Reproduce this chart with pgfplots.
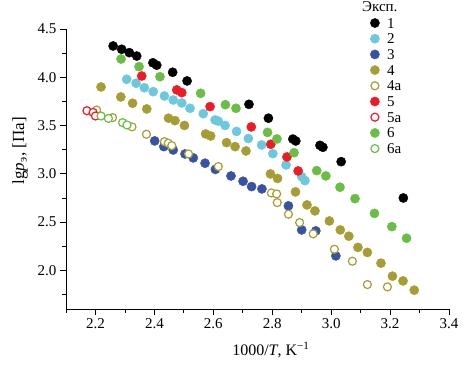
\documentclass[border=0pt]{standalone}
\usepackage{fontspec}
\setmainfont{Liberation Serif}
\usepackage{pgfplots}
\pgfplotsset{compat=1.18}
\definecolor{c1}{RGB}{0,0,0}
\definecolor{c2}{RGB}{108,200,220}
\definecolor{c3}{RGB}{57,83,164}
\definecolor{c4}{RGB}{166,158,52}
\definecolor{c5}{RGB}{237,28,36}
\definecolor{c6}{RGB}{106,189,69}
\begin{document}
\begin{tikzpicture}
\begin{axis}[
 scale only axis, width=383pt, height=280pt,
 xmin=2.1, xmax=3.4, ymin=1.6, ymax=4.5,
 axis lines=left, axis line style={-, line width=0.8pt, black},
 xtick={2.2,2.4,...,3.4}, ytick={2.0,2.5,...,4.5},
 minor xtick={2.1,2.3,...,3.3}, minor ytick={1.75,2.25,...,4.25},
 tick align=outside, major tick length=6pt, minor tick length=4pt,
 tick style={black, line width=0.8pt},
 xticklabel style={/pgf/number format/.cd, fixed, fixed zerofill, precision=1},
 yticklabel style={/pgf/number format/.cd, fixed, fixed zerofill, precision=1},
 /pgf/number format/assume math mode=true,
 tick label style={font=\fontsize{15}{15}\selectfont},
 xlabel={1000/\textit{T}, K\textsuperscript{−1}},
 ylabel={lg\textit{p}\textsubscript{э}, [Па]},
 every axis x label/.style={at={(axis description cs:0.535,-0.146)}, anchor=center, font=\fontsize{16}{16}\selectfont},
 every axis y label/.style={at={(axis description cs:-0.12,0.565)}, rotate=90, anchor=center, font=\fontsize{17}{17}\selectfont},
 legend image code/.code={\draw[#1] plot coordinates {(0pt,0pt)};},
 legend style={at={(axis description cs:0.794,1.040)}, anchor=north west, draw=none, fill=none,
   inner sep=0pt, font=\fontsize{15}{15}\selectfont, row sep=5.7pt, column sep=7.5pt,
   nodes={inner sep=0pt, text height=10pt, text depth=0pt}},
 legend cell align=left,
 filled/.style={only marks, mark=*, mark size=4.6pt, mark options={draw=#1, fill=#1}},
 hollow/.style={only marks, mark=*, mark size=4pt, mark options={draw=#1, fill=white, line width=1.2pt}},
]
\addplot[filled=c1] coordinates {
(2.260,4.324)(2.289,4.290)(2.315,4.255)(2.340,4.220)(2.395,4.150)(2.408,4.125)
(2.462,4.052)(2.511,3.962)(2.721,3.720)(2.787,3.576)(2.870,3.360)(2.880,3.340)
(2.962,3.295)(2.972,3.275)(3.034,3.126)(3.245,2.750)};
\addlegendentry{1}
\addplot[filled=c2] coordinates {
(2.306,3.979)(2.338,3.938)(2.366,3.892)(2.396,3.851)(2.434,3.806)(2.464,3.765)
(2.493,3.734)(2.521,3.679)(2.566,3.623)(2.606,3.558)(2.617,3.546)(2.640,3.501)
(2.679,3.439)(2.719,3.366)(2.764,3.299)(2.802,3.209)(2.847,3.092)(2.900,2.971)(2.911,2.930)};
\addlegendentry{2}
\addplot[filled=c3] coordinates {
(2.401,3.341)(2.432,3.282)(2.464,3.247)(2.504,3.206)(2.532,3.165)(2.572,3.110)
(2.607,3.046)(2.660,2.978)(2.701,2.923)(2.730,2.868)(2.765,2.844)(2.855,2.668)
(2.900,2.419)(2.948,2.409)(3.016,2.150)};
\addlegendentry{3}
\addplot[filled=c4] coordinates {
(2.219,3.900)(2.286,3.796)(2.326,3.731)(2.374,3.672)(2.448,3.576)(2.470,3.551)
(2.502,3.501)(2.574,3.413)(2.591,3.392)(2.645,3.323)(2.674,3.282)(2.711,3.237)
(2.794,2.999)(2.818,2.952)(2.879,2.813)(2.918,2.678)(2.945,2.616)(2.994,2.512)
(3.031,2.419)(3.060,2.354)(3.091,2.238)(3.123,2.186)(3.169,2.075)(3.208,1.940)
(3.244,1.891)(3.282,1.795)};
\addlegendentry{4}
\addplot[hollow=c4] coordinates {
(2.204,3.661)(2.258,3.582)(2.324,3.486)(2.373,3.410)(2.434,3.333)(2.447,3.317)
(2.459,3.292)(2.516,3.206)(2.617,3.075)(2.797,2.802)(2.815,2.792)(2.817,2.702)
(2.855,2.582)(2.893,2.495)(2.939,2.378)(3.011,2.219)(3.072,2.095)(3.123,1.853)(3.191,1.829)};
\addlegendentry{4a}
\addplot[filled=c5] coordinates {
(2.357,4.013)(2.476,3.869)(2.493,3.841)(2.589,3.696)(2.729,3.486)(2.795,3.306)
(2.850,3.175)(2.888,3.030)};
\addlegendentry{5}
\addplot[hollow=c5] coordinates {
(2.171,3.654)(2.192,3.636)(2.200,3.599)};
\addlegendentry{5a}
\addplot[filled=c6] coordinates {
(2.287,4.189)(2.348,4.110)(2.419,4.006)(2.557,3.834)(2.641,3.716)(2.677,3.679)
(2.784,3.429)(2.816,3.361)(2.874,3.219)(2.951,3.033)(2.982,2.978)(3.030,2.861)
(3.081,2.743)(3.147,2.590)(3.206,2.453)(3.256,2.333)};
\addlegendentry{6}
\addplot[hollow=c6] coordinates {
(2.219,3.599)(2.244,3.574)(2.292,3.530)(2.307,3.506)};
\addlegendentry{6a}
\end{axis}
\node[anchor=base west, font=\fontsize{15}{15}\selectfont, inner sep=0pt] at (296pt,297pt) {Эксп.};
\pgfresetboundingbox
\path[use as bounding box] (-66pt,-55pt) rectangle (402pt,309pt);
\end{tikzpicture}
\end{document}
